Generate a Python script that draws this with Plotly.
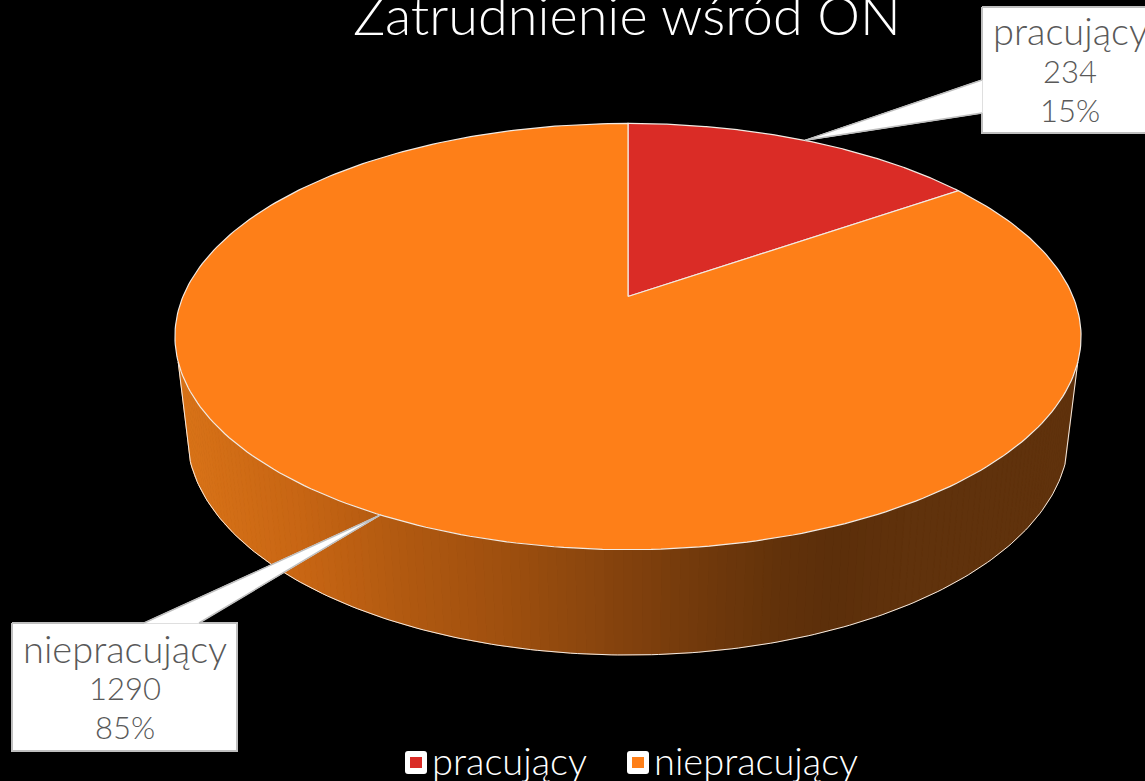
import numpy as np
import plotly.graph_objects as go

# ---- data ----
categories = ["pracujący", "niepracujący"]
values = [234, 1290]
slice_colors = ["#DA2C26", "#FE7F18"]
title_text = "Zatrudnienie wśród ON"

# ---- projection of the disc (perspective as seen in the reference) ----
CX = 628
CAM = 0.1878
TOP = dict(k=445, a=296.5, b=-149.9)
BOT = dict(k=433, a=393.7, b=-138.3)

# wall shading, by horizontal position
shade_x = [185, 300, 400, 500, 600, 700, 780, 830, 900, 1080]
shade_r = [217, 200, 178, 160, 137, 114, 98, 92, 96, 97]
shade_g = [115, 102, 90, 80, 69, 58, 50, 47, 50, 50]
shade_b = [24, 20, 17, 15, 14, 12, 10, 10, 12, 12]

FONT = "Lato"
GREY = "#595959"
EDGE = "#F2EBE4"
BOX = "#BFBFBF"
NAME_SIZE = 38
NUM_SIZE = 31


def proj(theta, p):
    u, v = np.sin(theta), np.cos(theta)
    w = 1 + CAM * v
    return CX + p["k"] * u / w, (p["a"] + p["b"] * v) / w


def rgb(x):
    return "rgb(%d,%d,%d)" % (np.interp(x, shade_x, shade_r),
                              np.interp(x, shade_x, shade_g),
                              np.interp(x, shade_x, shade_b))


def poly(x, y, fill, line=None, width=1, closed=True, name=None):
    x, y = list(x), list(y)
    if closed:
        x, y = x + x[:1], y + y[:1]
    return go.Scatter(x=x, y=y, mode="lines", fill="toself" if fill else None,
                      fillcolor=fill, line=dict(color=line or "rgba(0,0,0,0)", width=width),
                      hoverinfo="skip", showlegend=False, name=name)


def label(x, y, text, size, color, anchor="center"):
    fig.add_annotation(x=x, y=y, text=text, showarrow=False, xanchor=anchor, yanchor="middle",
                       font=dict(family=FONT, size=size, color=color, weight=300))


fig = go.Figure()

# side wall: narrow strips between the top rim and the bottom rim
start, end = np.radians(107.5), np.radians(252.5)
edges = np.linspace(start, end, 146)
for t0, t1 in zip(edges[:-1], edges[1:]):
    x0, y0 = proj(t0, TOP)
    x1, y1 = proj(t1, TOP)
    x2, y2 = proj(t1, BOT)
    x3, y3 = proj(t0, BOT)
    col = rgb((x0 + x1 + x2 + x3) / 4)
    fig.add_trace(poly([x0, x1, x2, x3], [y0, y1, y2, y3], col, col, 1))

# outer outline of the wall
tt = np.linspace(start, end, 200)
bx, by = proj(tt, BOT)
tx0, ty0 = proj(start, TOP)
tx1, ty1 = proj(end, TOP)
fig.add_trace(poly(np.r_[tx0, bx, tx1], np.r_[ty0, by, ty1], None, EDGE, 1, closed=False))

# top face: one sector per category
total = sum(values)
fractions = [v / total for v in values]
bounds = np.cumsum([0] + fractions) * 2 * np.pi
for f0, f1, col in zip(bounds[:-1], bounds[1:], slice_colors):
    ang = np.linspace(f0, f1, 300)
    rx, ry = proj(ang, TOP)
    fig.add_trace(poly(np.r_[CX, rx], np.r_[TOP["a"], ry], col, EDGE, 1.2))

# callouts: box corners and tip, the tip sits on the rim at each sector's middle
boxes = [dict(x0=982, x1=1170, y0=7, y1=133, base=[(982, 80), (982, 113)], tx=1070, ty=[30, 71, 110]),
         dict(x0=12, x1=237, y0=623, y1=751, base=[(144, 623), (199, 623)], tx=124.5, ty=[648, 688, 727])]
for i, b in enumerate(boxes):
    fig.add_trace(poly([b["x0"], b["x1"], b["x1"], b["x0"]], [b["y0"], b["y0"], b["y1"], b["y1"]],
                       "#FFFFFF", BOX, 2))
    tip_x, tip_y = proj((bounds[i] + bounds[i + 1]) / 2, TOP)
    wx = [b["base"][0][0], float(tip_x), b["base"][1][0]]
    wy = [b["base"][0][1], float(tip_y), b["base"][1][1]]
    fig.add_trace(poly(wx, wy, "#FFFFFF", "#FFFFFF", 1))
    fig.add_trace(poly(wx, wy, None, BOX, 1.5, closed=False))
    pct = 100 * fractions[i]
    label(b["tx"], b["ty"][0], categories[i], NAME_SIZE, GREY)
    label(b["tx"], b["ty"][1], str(values[i]), NUM_SIZE, GREY)
    label(b["tx"], b["ty"][2], f"{pct:.0f}%", NUM_SIZE, GREY)

# legend
legend_x = [405, 627]
shapes = []
for lx, cat, col in zip(legend_x, categories, slice_colors):
    r = 3
    path = (f"M{lx+r},751 H{lx+22-r} Q{lx+22},751 {lx+22},{751+r} V{774-r} Q{lx+22},774 {lx+22-r},774 "
            f"H{lx+r} Q{lx},774 {lx},{774-r} V{751+r} Q{lx},751 {lx+r},751 Z")
    shapes.append(dict(type="path", path=path, fillcolor="#FFFFFF", line=dict(width=0), xref="x", yref="y"))
    shapes.append(dict(type="rect", x0=lx + 5, x1=lx + 17, y0=757, y1=768, fillcolor=col,
                       line=dict(width=0), xref="x", yref="y"))
    label(lx + 25, 760, cat, NAME_SIZE, "#FFFFFF", "left")

# title, cut by the top of the page as in the reference
label(627, 14, title_text, 54, "#FFFFFF")

fig.update_layout(
    width=1145, height=781, margin=dict(l=0, r=0, t=0, b=0),
    paper_bgcolor="#000000", plot_bgcolor="#000000", showlegend=False, shapes=shapes,
    xaxis=dict(range=[0, 1145], visible=False, fixedrange=True),
    yaxis=dict(range=[781, 0], visible=False, fixedrange=True),
)
fig.write_html("out.html", config={"displayModeBar": False},
               post_script="document.body.style.margin='0';document.body.style.background='#000';document.body.style.overflow='hidden';")
